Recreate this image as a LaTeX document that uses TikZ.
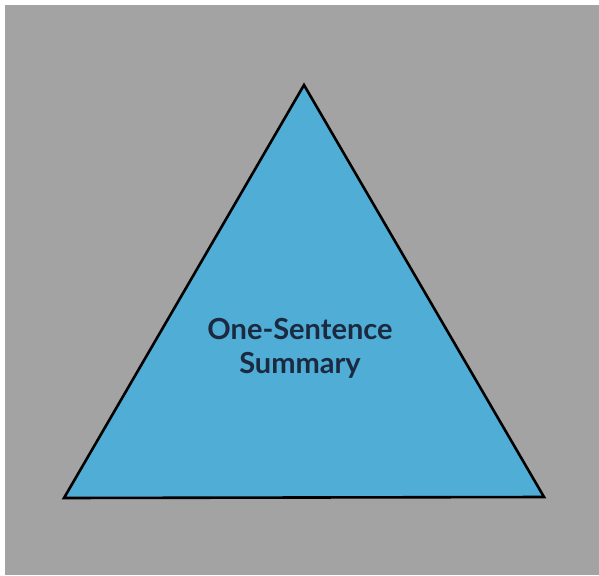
\documentclass[tikz,border=0pt]{standalone}
\usepackage{fontspec}
\setmainfont{Lato}
\usetikzlibrary{positioning}
\definecolor{backgray}{HTML}{A3A3A3}
\definecolor{pyrblue}{HTML}{4FADD6}
\definecolor{textnavy}{HTML}{1B2A40}
\tikzset{
  back/.style={fill=backgray, draw=none},
  pyramid/.style={fill=pyrblue, draw=black, line width=2.6pt, line join=miter},
  caption/.style={font=\fontsize{29}{34}\selectfont\bfseries, text=textnavy,
    align=center, inner sep=0pt},
}
\begin{document}
\begin{tikzpicture}[x=1pt, y=-1pt]
  % page and background
  \useasboundingbox (0,0) rectangle (599,575);
  \fill[white] (0,0) rectangle (599,575);
  \path[back] (5,5) rectangle (599,575);
  % corners of the triangle
  \coordinate (apex) at (304,85);
  \coordinate (left) at (64,498);
  \coordinate (right) at (544,497);
  \draw[pyramid] (apex) -- (right) -- (left) -- cycle;
  % label
  \node[caption] (summary) at (300,348) {One-Sentence\\Summary};
\end{tikzpicture}
\end{document}
